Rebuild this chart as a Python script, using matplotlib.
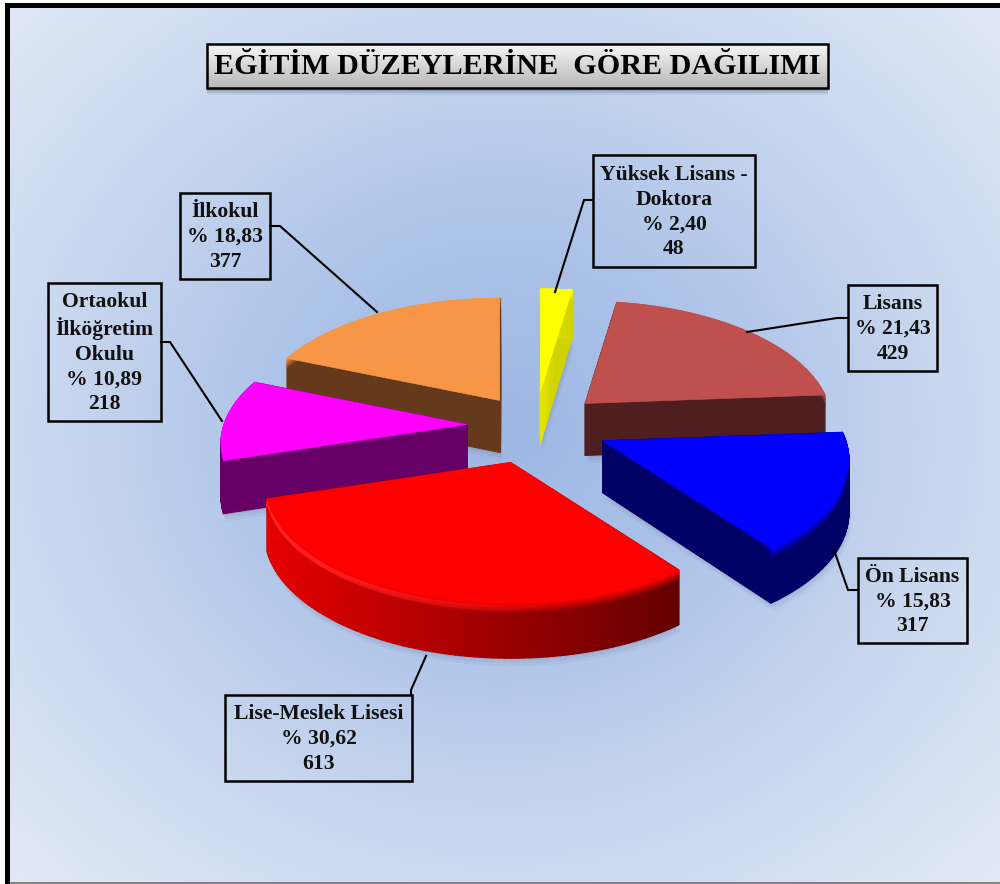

# Exploded 3D pie of education levels, slices are projected by hand since the
# reference has a perspective that plt.pie can not give

import numpy as np
import matplotlib
matplotlib.use('Agg')
import matplotlib.pyplot as plt
from matplotlib.collections import PolyCollection
from matplotlib.patches import Rectangle, Polygon

plt.rcParams['font.family'] = ['Liberation Serif', 'DejaVu Serif']

title = 'EĞİTİM DÜZEYLERİNE  GÖRE DAĞILIMI'
categories = ['Yüksek Lisans -\nDoktora', 'Lisans', 'Ön Lisans', 'Lise-Meslek Lisesi',
              'Ortaokul\nİlköğretim\nOkulu', 'İlkokul']
percents = [2.40, 21.43, 15.83, 30.62, 10.89, 18.83]
counts = [48, 429, 317, 613, 218, 377]

top_colors = ['#FFFF00', '#C0504D', '#0000FF', '#FF0000', '#FF00FF', '#F79646']
wall_left = ['#E6E600', '#4F1F1F', '#000066', '#E60000', '#660066', '#653A1C']
wall_right = ['#D2D200', '#4F1F1F', '#000066', '#640000', '#660066', '#653A1C']
explode = [0.31, 0.29, 0.30, 0.31, 0.28, 0.27]
draw_order = [0, 1, 5, 4, 2, 3]

label_boxes = [(593, 155, 755, 267), (848, 285, 937, 371), (858, 558, 967, 643),
               (225, 695, 412, 781), (48, 283, 161, 421), (180, 193, 270, 279)]
leaders = [[(593, 200), (584, 200), (555, 292)],
           [(848, 318), (837, 318), (747, 332)],
           [(858, 590), (848, 590), (834, 550)],
           [(411, 695), (411, 690), (426, 656)],
           [(161, 342), (170, 342), (222, 421)],
           [(270, 226), (280, 226), (377, 312)]]

# projection of the pie plane in pixels
cx, cy = 535, 426
scale_x, scale_y, persp = 243, 118, 0.157
height = 52
bevel = 11


def project(u, v):
    d = 1 + persp*v
    return scale_x*u/d, -scale_y*v/d


def rgb(c):
    return np.array(matplotlib.colors.to_rgb(c))


def background(ax):
    yy, xx = np.mgrid[0:884, 0:1000]
    t = np.sqrt(((xx-500)/500.)**2 + ((yy-430)/450.)**2)/np.sqrt(2)
    stops = [0.0, 0.3, 0.6, 1.0]
    cols = np.array([[158, 184, 228], [172, 194, 232], [198, 213, 238], [226, 233, 246]])/255.
    img = np.dstack([np.interp(t, stops, cols[:, i]) for i in range(3)])
    ax.imshow(img, extent=(0, 1000, 884, 0), zorder=0, aspect='auto')
    ax.add_patch(Rectangle((0, 0), 1000, 3, fc='white', ec='none', zorder=1))
    ax.add_patch(Rectangle((0, 0), 5, 884, fc='white', ec='none', zorder=1))
    ax.add_patch(Rectangle((5, 3), 995, 5, fc='black', ec='none', zorder=1))
    ax.add_patch(Rectangle((5, 3), 5, 881, fc='black', ec='none', zorder=1))
    ax.add_patch(Rectangle((10, 882), 990, 2, fc='#808488', ec='none', zorder=1))


def draw_slice(ax, i, start, sweep, z):
    theta = np.radians(np.linspace(start, start+sweep, 90))
    mid = np.radians(start+sweep/2.)
    ax0, ay0 = project(explode[i]*np.sin(mid), explode[i]*np.cos(mid))
    ax0 += cx
    ay0 += cy
    px, py = project(np.sin(theta), np.cos(theta))
    px = px+ax0
    py = py+ay0
    # the wall gets a little taller to the front
    hgt = height*(1-0.07*np.cos(theta))

    # soft shadow on the background
    for off, alpha in zip([8, 5, 2], [0.05, 0.07, 0.09]):
        sh = np.column_stack([np.r_[ax0, px]+off/3., np.r_[ay0+height, py+hgt]+off])
        ax.add_patch(Polygon(sh, fc='#40507A', ec='none', alpha=alpha, zorder=z))

    # the two cut faces, in strips from the apex out
    polys = []
    face = []
    for k in [0, -1]:
        frac = np.linspace(0, 1, 13)
        ex = ax0+(px[k]-ax0)*frac
        ey = ay0+(py[k]-ay0)*frac
        eh = height+(hgt[k]-height)*frac
        for m in range(12):
            polys.append([(ex[m], ey[m]), (ex[m+1], ey[m+1]), (ex[m+1], ey[m+1]+eh[m+1]), (ex[m], ey[m]+eh[m])])
            t = min(frac[m]*2.5, 1.0)
            face.append(rgb(wall_left[i])*(1-t) + rgb(wall_right[i])*t)
    ax.add_collection(PolyCollection(polys, facecolors=face, edgecolors=face, linewidths=0.8, zorder=z+0.1))

    # outer rim, shaded from left to right with a small bevel at the top
    polys = []
    face = []
    xpos = (px-px.min())/max(px.max()-px.min(), 1.0)
    levels = list(np.linspace(0, 1, 7)) + [None]
    for n in range(len(levels)-1):
        for m in range(len(px)-1):
            a0 = levels[n]*bevel
            a1 = levels[n+1]*bevel if levels[n+1] is not None else hgt[m]
            b1 = levels[n+1]*bevel if levels[n+1] is not None else hgt[m+1]
            polys.append([(px[m], py[m]+a0), (px[m+1], py[m+1]+a0),
                          (px[m+1], py[m+1]+b1), (px[m], py[m]+a1)])
            base = rgb(wall_left[i])*(1-xpos[m]) + rgb(wall_right[i])*xpos[m]
            c = rgb(top_colors[i])*(1-levels[n]) + base*levels[n]
            if i == 3 and 0.3 < levels[n] < 0.7:
                c = np.minimum(c+np.array([0.1, 0.14, 0.14])*max(0., 1-xpos[m]/0.75), 1.0)
            face.append(c)
    ax.add_collection(PolyCollection(polys, facecolors=face, edgecolors=face, linewidths=1.0, zorder=z+0.2))

    # top surface
    top = np.column_stack([np.r_[ax0, px], np.r_[ay0, py]])
    ax.add_patch(Polygon(top, fc=top_colors[i], ec=top_colors[i], lw=0.5, zorder=z+0.3))


def plot_education_pie():
    fig = plt.figure(figsize=(10, 8.84), dpi=100)
    ax = fig.add_axes([0, 0, 1, 1])
    background(ax)

    # angles clockwise from the top
    starts = np.r_[0, np.cumsum(percents)[:-1]]*3.6
    sweeps = np.array(percents)*3.6
    for z, i in enumerate(draw_order):
        draw_slice(ax, i, starts[i], sweeps[i], 2+z)

    # leaders and label boxes
    for i in range(len(categories)):
        x0, y0, x1, y1 = label_boxes[i]
        xs, ys = zip(*leaders[i])
        ax.plot(xs, ys, color='black', lw=1.5, zorder=10, solid_joinstyle='miter')
        ax.add_patch(Rectangle((x0, y0), x1-x0, y1-y0, fc='none', ec='black', lw=1.8, zorder=11))
        pct = '%% %.2f' % percents[i]
        label = categories[i] + '\n' + pct.replace('.', ',') + '\n' + str(counts[i])
        ax.text((x0+x1)/2., (y0+y1)/2.+1, label, ha='center', va='center', fontsize=15.6,
                fontweight='bold', linespacing=1.31, color='#111111', zorder=12)

    # title box with gradient and shadow
    for off, alpha in zip([7, 5, 3], [0.08, 0.12, 0.18]):
        ax.add_patch(Rectangle((207, 45+off), 621, 43, fc='#30405E', ec='none', alpha=alpha, zorder=12))
    grad = np.linspace(0.96, 0.72, 64).reshape(-1, 1)
    ax.imshow(grad, extent=(207, 828, 88, 44), cmap='gray', vmin=0, vmax=1, aspect='auto', zorder=13)
    ax.add_patch(Rectangle((207, 44), 621, 44, fc='none', ec='black', lw=1.8, zorder=14))
    ax.text(517.5, 66.5, title, ha='center', va='center', fontsize=21.7, fontweight='bold', zorder=15)

    ax.set_xlim(0, 1000)
    ax.set_ylim(884, 0)
    ax.axis('off')
    fig.savefig('out.png', dpi=100)


#~()~()~()~()~()~()~()~()~()~()~()~()~()~()~()~()~()~()~()~()~()~()~()~()~()~()~()~()~()~()~#
if __name__ == '__main__':
    plot_education_pie()
